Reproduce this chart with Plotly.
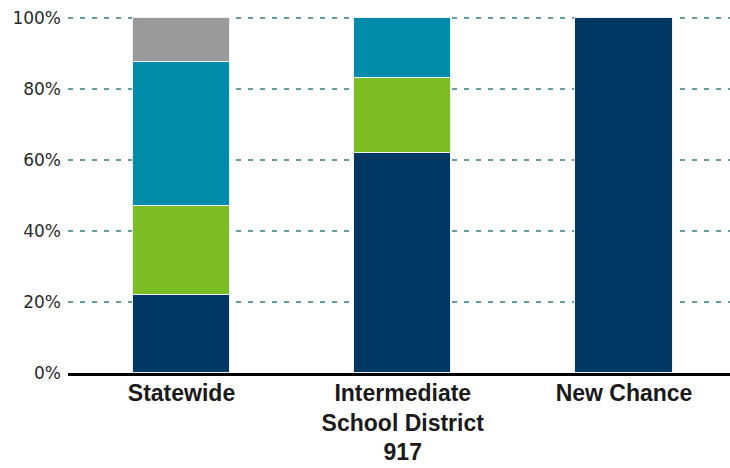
import plotly.graph_objects as go

categories = ["Statewide", "Intermediate<br>School District<br>917", "New Chance"]
series_names = ["Does Not Meet", "Partially Meets", "Meets", "Exceeds"]
does_not_meet = [22.0, 62.1, 100.0]
partially_meets = [25.0, 20.9, 0.0]
meets = [40.6, 17.0, 0.0]
exceeds = [12.4, 0.0, 0.0]
colors = ["#003763", "#7bbd22", "#008caa", "#9a9a9c"]
y_ticks = [0, 20, 40, 60, 80, 100]
y_tick_labels = ["0%", "20%", "40%", "60%", "80%", "100%"]

fig = go.Figure()
for name, vals, col in zip(series_names, [does_not_meet, partially_meets, meets, exceeds], colors):
    fig.add_trace(go.Bar(
        x=list(range(len(categories))), y=vals, name=name,
        marker=dict(color=col, line=dict(color="#eef2f5", width=1.5)),
        width=0.44, showlegend=False,
    ))

fig.update_layout(
    barmode="stack",
    width=730, height=468,
    margin=dict(l=68, r=0, t=16, b=95),
    paper_bgcolor="white", plot_bgcolor="white",
    bargap=0,
    xaxis=dict(
        range=[-0.513, 2.479],
        tickmode="array", tickvals=list(range(len(categories))), ticktext=categories,
        tickfont=dict(family="Liberation Sans", size=23, color="#1a1a1a", weight="bold"),
        showgrid=False, showline=True, linecolor="black", linewidth=3,
        ticks="", zeroline=False, ticklabelstandoff=-3,
    ),
    yaxis=dict(
        range=[0, 100.6],
        tickmode="array", tickvals=y_ticks, ticktext=y_tick_labels,
        tickfont=dict(family="DejaVu Sans", size=17, color="#2a2a2a"),
        showgrid=True, gridcolor="#659ea2", gridwidth=2, griddash="5px,7px",
        zeroline=False, showline=False, ticks="", ticklabelstandoff=6,
    ),
)

fig.write_html("out.html")
